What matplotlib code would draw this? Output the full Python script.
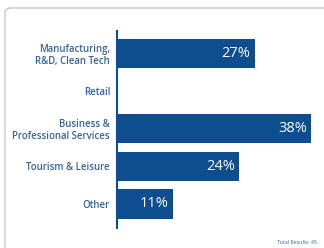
import matplotlib.pyplot as plt
from matplotlib.patches import FancyBboxPatch

categories = ["Manufacturing,\nR&D, Clean Tech", "Retail", "Business &\nProfessional Services",
              "Tourism & Leisure", "Other"]
values = [27, 0, 38, 24, 11]
value_labels = ["27%", "", "38%", "24%", "11%"]
total_text = "Total Results: 45"

bar_color = "#0e4d8f"
label_color = "#34639f"

plt.rcParams['font.family'] = ['Open Sans', 'DejaVu Sans']

fig = plt.figure(figsize=(3.24, 2.48), dpi=100)
fig.patch.set_facecolor("white")

# card outline, kept behind the axes
card = FancyBboxPatch((5 / 324, -0.1), 1.2, 1.1 - 8 / 248,
                      boxstyle="round,pad=0,rounding_size=0.02",
                      transform=fig.transFigure, facecolor="white",
                      edgecolor="#c8c8c8", linewidth=1.0, zorder=-5)
fig.patches.append(card)

ax = fig.add_axes([117 / 324, 20 / 248, 204 / 324, 197 / 248])
ax.set_zorder(5)
ax.set_facecolor("none")
ypos = list(range(len(categories)))
ax.barh(ypos, values, height=0.78, color=bar_color)
ax.set_xlim(0, 40)
ax.set_ylim(4.64, -0.6)

for y, v, lab in zip(ypos, values, value_labels):
    if lab:
        ax.text(v - 0.8, y, lab, ha="right", va="center", color="white", fontsize=10.5)

ax.set_yticks(ypos)
ax.set_yticklabels(categories, fontsize=6.9, color=label_color, linespacing=1.1,
                   fontweight="semibold")
ax.tick_params(axis="y", length=0, pad=5)
ax.set_xticks([])
for s in ["top", "right", "bottom"]:
    ax.spines[s].set_visible(False)
ax.spines["left"].set_color(bar_color)
ax.spines["left"].set_linewidth(1.5)

fig.text(317 / 324, 1 - 243 / 248, total_text, ha="right", va="center",
         fontsize=3.8, color=label_color, zorder=6)

fig.savefig("out.png", dpi=100)
